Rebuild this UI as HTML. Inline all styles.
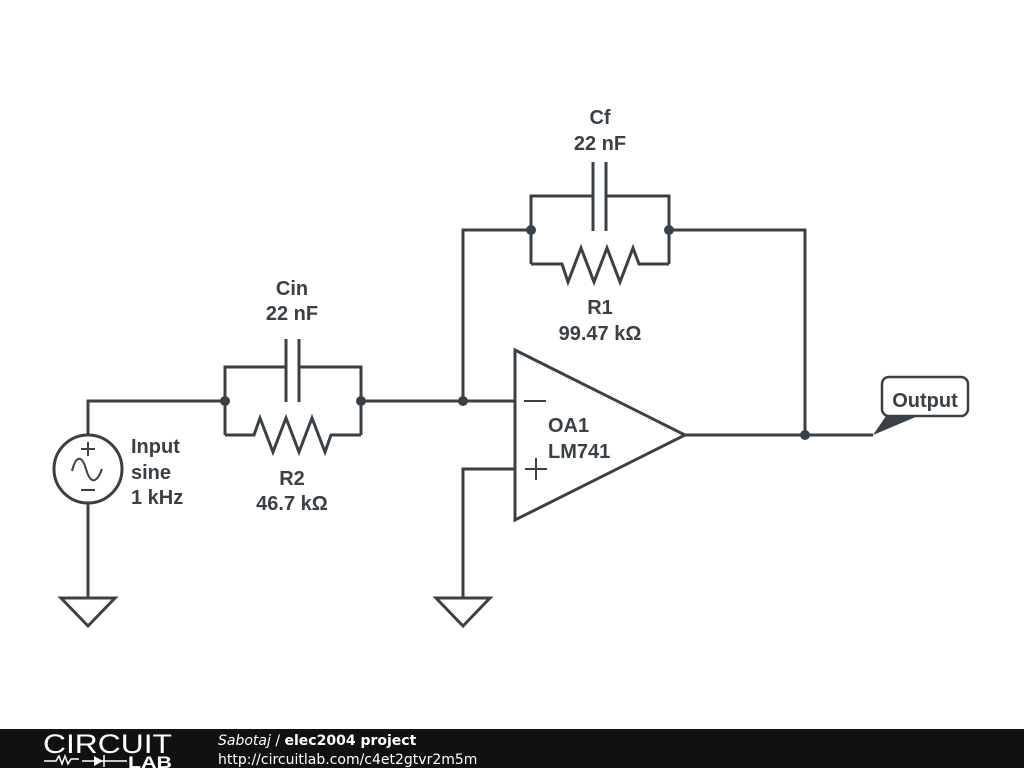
<!DOCTYPE html>
<html><head><meta charset="utf-8"><style>
html,body{margin:0;padding:0;background:#fff;width:1024px;height:768px;overflow:hidden}
svg{display:block}
text{font-family:"Liberation Sans",sans-serif;font-weight:bold;font-size:20px;fill:#3a4146}
</style></head><body>
<svg width="1024" height="768" viewBox="0 0 1024 768">
<g stroke="#3a4146" stroke-width="3" fill="none" stroke-linejoin="miter">
<circle cx="88" cy="469" r="34"/>
<path d="M88 435V401H225"/>
<path d="M88 503V598"/>
<path d="M61 598H115L88 626Z"/>
<path d="M81 449h14M88 442v14M81 490h14" stroke-width="2"/>
<path d="M72 471c4-16 10-16 14 -2s10 16 16 0" stroke-width="2"/>
<path d="M225 435V367H286M299 367H361V435"/>
<path d="M286 339V402M299 339V402"/>
<path d="M225 435H254L260 418L273 452L286 418L299 452L312 418L325 452L331 435H361"/>
<path d="M361 401H515"/>
<path d="M463 401V230H531"/>
<path d="M531 264V196H593M606 196H669V264"/>
<path d="M593 162V231M606 162V231"/>
<path d="M531 264H562L568 282L581 248L594 282L607 248L620 282L633 248L639 264H669"/>
<path d="M669 230H805V435"/>
<path d="M515 350L685 435L515 520Z"/>
<path d="M524 401H546M525 469H547M536 458V480" stroke-width="2"/>
<path d="M515 469H463V598"/>
<path d="M436 598H490L463 626Z"/>
<path d="M685 435H873"/>
<rect x="882" y="377" width="86" height="39" rx="7" ry="7" stroke-width="2.5"/>
</g>
<path d="M873 435L886 416H918Z" fill="#3a4146"/>
<g fill="#3a4146">
<circle cx="225" cy="401" r="5"/><circle cx="361" cy="401" r="5"/>
<circle cx="463" cy="401" r="5"/><circle cx="531" cy="230" r="5"/>
<circle cx="669" cy="230" r="5"/><circle cx="805" cy="435" r="5"/>
</g>
<text x="292" y="295" text-anchor="middle">Cin</text>
<text x="292" y="320" text-anchor="middle">22 nF</text>
<text x="292" y="485" text-anchor="middle">R2</text>
<text x="292" y="510" text-anchor="middle">46.7 kΩ</text>
<text x="600" y="124" text-anchor="middle">Cf</text>
<text x="600" y="150" text-anchor="middle">22 nF</text>
<text x="600" y="314" text-anchor="middle">R1</text>
<text x="600" y="340" text-anchor="middle">99.47 kΩ</text>
<text x="131" y="453">Input</text>
<text x="131" y="479">sine</text>
<text x="131" y="504">1 kHz</text>
<text x="548" y="432">OA1</text>
<text x="548" y="458">LM741</text>
<text x="925" y="407" text-anchor="middle">Output</text>
<rect x="0" y="729" width="1024" height="39" fill="#111"/>
<text x="43" y="753" textLength="129" lengthAdjust="spacingAndGlyphs" style="font-weight:normal;font-size:27px;fill:#fff">CIRCUIT</text>
<path d="M44 761h12l3-5 3 8 3-8 3 8 3-5h8M82 761h45M104 755v12" stroke="#fff" stroke-width="1.5" fill="none"/>
<path d="M94 756v10l9-5z" fill="#fff"/>
<text x="128" y="768" textLength="44" lengthAdjust="spacingAndGlyphs" style="font-size:17px;fill:#fff">LAB</text>
<text x="218" y="745" style="font-family:'DejaVu Sans',sans-serif;font-size:14px;fill:#fff;font-weight:normal"><tspan font-style="italic">Sabotaj</tspan> / <tspan font-weight="bold">elec2004 project</tspan></text>
<text x="218" y="764" style="font-family:'DejaVu Sans',sans-serif;font-size:14px;fill:#fff;font-weight:normal">http://circuitlab.com/c4et2gtvr2m5m</text>
</svg>
</body></html>
